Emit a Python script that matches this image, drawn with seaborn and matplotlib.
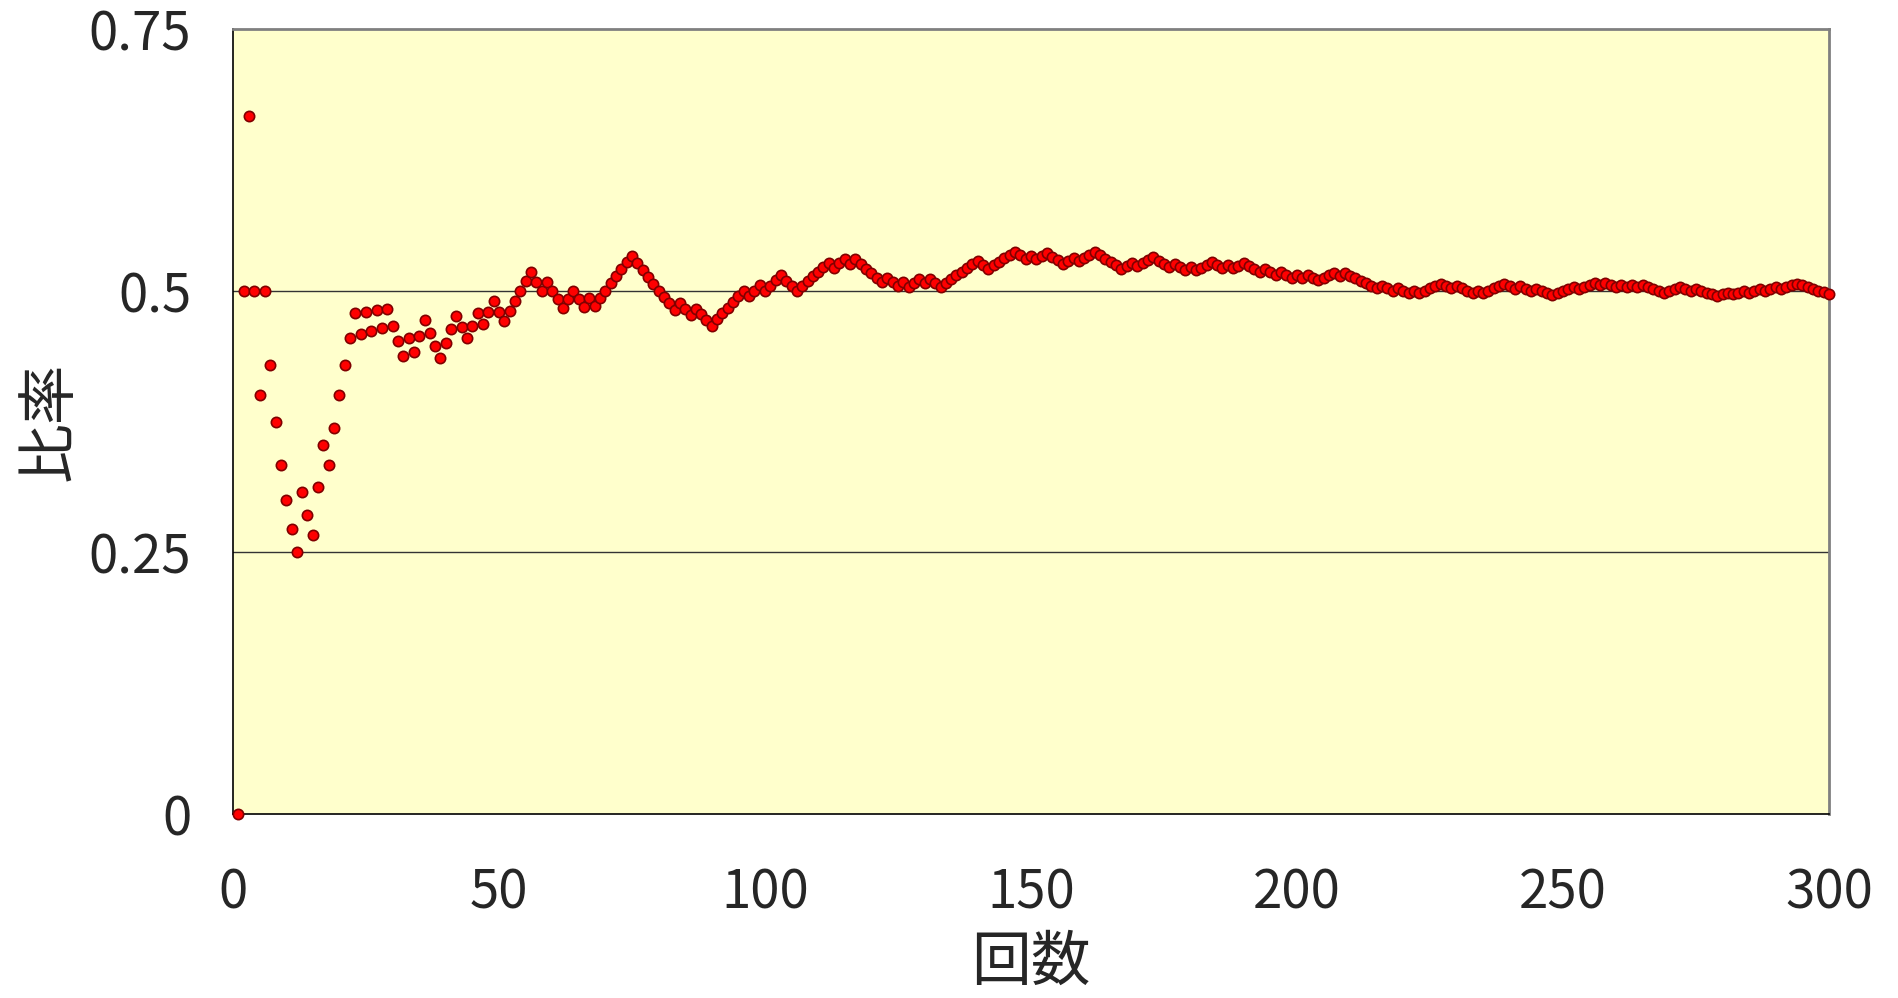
import numpy as np
import pandas as pd
import matplotlib.pyplot as plt
import seaborn as sns

# 表=1, 裏=0 (300回のコイン投げ、図から読み取り)
tosses = [
    0, 1, 1, 0, 0, 1, 0, 0, 0, 0, 0, 0, 1, 0, 0, 1, 1, 0, 1, 1, 1, 1, 1, 0, 1,
    0, 1, 0, 1, 0, 0, 0, 1, 0, 1, 1, 0, 0, 0, 1, 1, 1, 0, 0, 1, 1, 0, 1, 1, 0,
    0, 1, 1, 1, 1, 1, 0, 0, 1, 0, 0, 0, 1, 1, 0, 0, 1, 0, 1, 1, 1, 1, 1, 1, 1,
    0, 0, 0, 0, 0, 0, 0, 0, 1, 0, 0, 1, 0, 0, 0, 1, 1, 1, 1, 1, 1, 0, 1, 1, 0,
    1, 1, 1, 0, 0, 0, 1, 1, 1, 1, 1, 1, 0, 1, 1, 0, 1, 0, 0, 0, 0, 0, 1, 0, 0,
    1, 0, 1, 1, 0, 1, 0, 0, 1, 1, 1, 1, 1, 1, 1, 0, 0, 1, 1, 1, 1, 1, 0, 0, 1,
    0, 1, 1, 0, 0, 0, 1, 1, 0, 1, 1, 1, 0, 0, 0, 0, 0, 1, 1, 0, 1, 1, 1, 0, 0,
    0, 1, 0, 0, 1, 0, 1, 1, 1, 0, 0, 1, 0, 1, 1, 0, 0, 0, 1, 0, 0, 1, 0, 0, 1,
    0, 1, 0, 0, 1, 1, 1, 0, 1, 0, 0, 0, 0, 0, 0, 1, 0, 0, 1, 0, 0, 1, 0, 1, 1,
    1, 1, 0, 0, 1, 0, 0, 0, 1, 0, 1, 1, 1, 1, 0, 0, 1, 0, 0, 1, 0, 0, 0, 1, 1,
    1, 1, 0, 1, 1, 1, 0, 1, 0, 0, 1, 0, 1, 0, 1, 0, 0, 0, 0, 1, 1, 1, 0, 0, 1,
    0, 0, 0, 0, 1, 1, 0, 1, 1, 0, 1, 1, 0, 1, 1, 0, 1, 1, 1, 0, 0, 0, 0, 0, 0,
]

x_ticks = [0, 50, 100, 150, 200, 250, 300]
y_ticks = [0, 0.25, 0.5, 0.75]
y_tick_labels = ['0', '0.25', '0.5', '0.75']

kaisu = np.arange(1, len(tosses) + 1)
df = pd.DataFrame({'回数': kaisu, '比率': np.cumsum(tosses) / kaisu})

sns.set_style('white')
plt.rcParams['font.family'] = ['Noto Sans CJK JP', 'DejaVu Sans']

fig = plt.figure(figsize=(18.99, 9.98), dpi=100)
ax = fig.add_axes([0.1227, 0.1844, 0.8404, 0.7865])
ax.set_facecolor('#FFFFCC')

# 目盛線
for y in [0.25, 0.5]:
    ax.axhline(y, color='#333333', lw=1.0, zorder=1)

sns.scatterplot(data=df, x='回数', y='比率', color='#FF0000', edgecolor='#800000',
                linewidth=1.2, s=55, ax=ax, clip_on=False, zorder=3)

ax.set_xlim(0, 300)
ax.set_ylim(0, 0.75)
ax.set_xticks(x_ticks)
ax.set_yticks(y_ticks)
ax.set_yticklabels(y_tick_labels)
ax.tick_params(axis='x', direction='in', length=8, width=1, pad=37, labelsize=38)
ax.tick_params(axis='y', direction='in', length=8, width=1, pad=30, labelsize=38)
ax.tick_params(top=False, right=False)

for side in ['left', 'bottom']:
    ax.spines[side].set_color('black')
    ax.spines[side].set_linewidth(1.2)
for side in ['top', 'right']:
    ax.spines[side].set_color('#808080')
    ax.spines[side].set_linewidth(2)

ax.set_xlabel('回数', fontsize=43, labelpad=9)
ax.set_ylabel('比率', fontsize=43, labelpad=6)

fig.savefig('out.png', dpi=100)
plt.close()
